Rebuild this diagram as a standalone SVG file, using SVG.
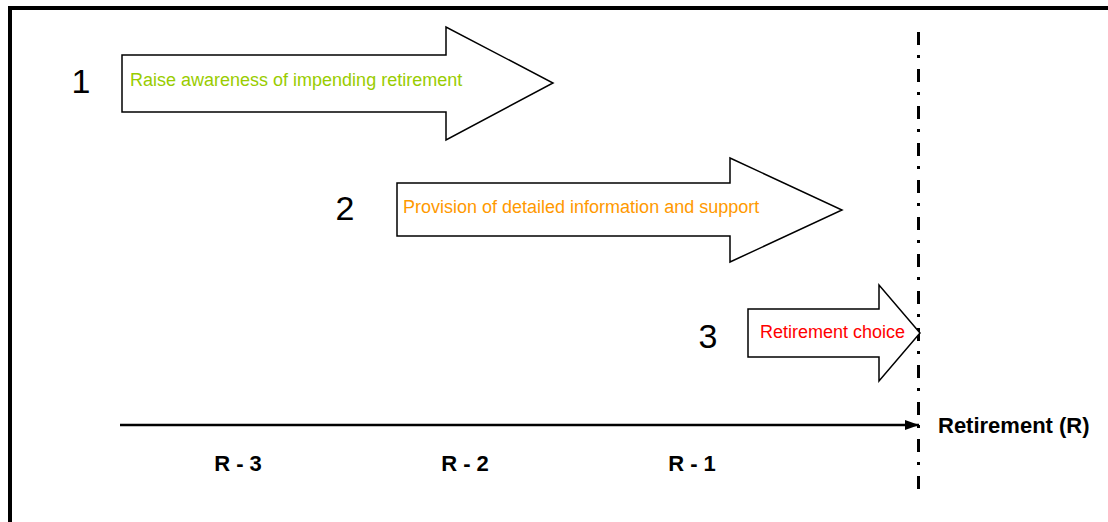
<svg xmlns="http://www.w3.org/2000/svg" width="1108" height="522" viewBox="0 0 1108 522">
<style>
.arr{fill:#fff;stroke:#000;stroke-width:1.5;stroke-linejoin:miter}
.num{font-family:"Liberation Sans",Arial,sans-serif;font-size:34px;fill:#000;text-anchor:middle}
.lbl{font-family:"Liberation Sans",Arial,sans-serif;font-size:18px}
.bold{font-family:"Liberation Sans",Arial,sans-serif;font-size:22px;font-weight:bold;fill:#000}
</style>
<defs>
<marker id="ah" markerWidth="14" markerHeight="10" refX="14" refY="5" orient="auto" markerUnits="userSpaceOnUse">
<path d="M0,0 L14,5 L0,10 Z" fill="#000"/>
</marker>
</defs>
<rect x="10" y="8" width="1200" height="600" fill="#fff" stroke="#000" stroke-width="4"/>
<g id="connectors">
<line x1="120" y1="425" x2="919" y2="425" stroke="#000" stroke-width="2.5" marker-end="url(#ah)"/>
<line x1="918.5" y1="32" x2="918.5" y2="492" stroke="#000" stroke-width="3" stroke-dasharray="13 10 3 11"/>
</g>
<g id="arrow1">
<path class="arr" d="M122,55 H446 V27 L553,83 L446,140 V112 H122 Z"/>
<text class="lbl" x="130" y="86" fill="#99cc00">Raise awareness of impending retirement</text>
</g>
<g id="label1"><text class="num" x="81" y="93">1</text></g>
<g id="arrow2">
<path class="arr" d="M397,183 H730 V158 L842,210 L730,262 V236 H397 Z"/>
<text class="lbl" x="403" y="213" fill="#ff9900">Provision of detailed information and support</text>
</g>
<g id="label2"><text class="num" x="345" y="220">2</text></g>
<g id="arrow3">
<path class="arr" d="M748,309 H879 V285 L920,333 L879,381 V357 H748 Z"/>
<text class="lbl" x="760" y="338" fill="#ff0000">Retirement choice</text>
</g>
<g id="label3"><text class="num" x="708" y="348">3</text></g>
<g id="axis-labels">
<text class="bold" x="938" y="433">Retirement (R)</text>
<text class="bold" x="238" y="471" text-anchor="middle">R - 3</text>
<text class="bold" x="465" y="471" text-anchor="middle">R - 2</text>
<text class="bold" x="692" y="471" text-anchor="middle">R - 1</text>
</g>
</svg>
